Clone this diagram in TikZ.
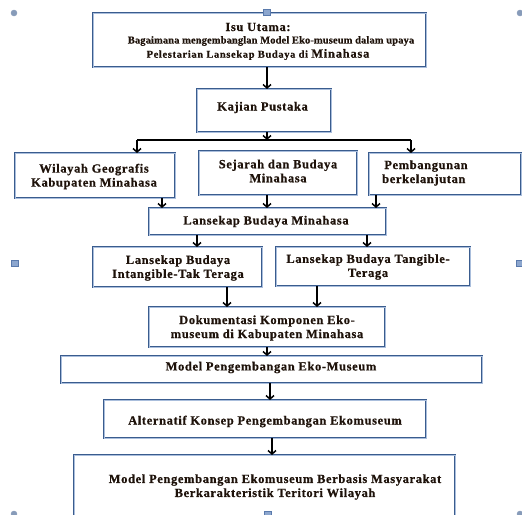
\documentclass[tikz,border=0pt]{standalone}
\usepackage{fontspec}
\setmainfont{Liberation Serif}
\newfontfamily\spA{Liberation Serif Bold}[LetterSpace=5,FakeBold=0.6]
\newfontfamily\spB{Liberation Serif Bold}[LetterSpace=1,FakeBold=0.6]
\newfontfamily\spC{Liberation Serif Bold}[LetterSpace=6,FakeBold=0.6]
\usetikzlibrary{arrows.meta}
\definecolor{boxblue}{RGB}{58,92,142}
\definecolor{boxlight}{RGB}{170,190,220}
\definecolor{txtc}{RGB}{30,18,10}
\definecolor{hfill}{RGB}{140,166,206}
\definecolor{hdraw}{RGB}{90,122,172}
\definecolor{cfill}{RGB}{135,155,185}
\tikzset{
  box/.style={draw=boxblue, line width=2.6pt, fill=white, inner sep=0pt, outer sep=0pt,
    postaction={draw=boxlight, line width=0.6pt}},
  txt/.style={font=\spA\fontsize{12.5}{14}\selectfont, text=txtc, align=center, inner sep=0pt},
  arr/.style={draw=black, line width=1.5pt, -{Straight Barb[length=3.5pt,width=8pt,line width=1.5pt]}},
  ln/.style={draw=black, line width=1.1pt},
  hsq/.style={draw=hdraw, fill=hfill, line width=0.5pt, minimum width=7pt, minimum height=6pt, inner sep=0pt},
  hci/.style={circle, draw=cfill, fill=cfill, minimum size=6pt, inner sep=0pt}
}
\begin{document}
\begin{tikzpicture}[x=1pt,y=-1pt]
\clip (0,0) rectangle (522,514);
\fill[white] (0,0) rectangle (522,514);
% boxes
\node[box, minimum width=333pt, minimum height=54pt] (isu) at (259.5,40) {};
\node[box, minimum width=134pt, minimum height=43pt] (kaj) at (264,110.5) {};
\node[box, minimum width=160pt, minimum height=45pt] (wil) at (95,175.5) {};
\node[box, minimum width=158pt, minimum height=44pt] (sej) at (278,173) {};
\node[box, minimum width=152pt, minimum height=42pt] (pem) at (445,174) {};
\node[box, minimum width=237pt, minimum height=27pt] (lbm) at (267.5,221.5) {};
\node[box, minimum width=169pt, minimum height=40pt] (int) at (177.5,267) {};
\node[box, minimum width=194pt, minimum height=39pt] (tan) at (373,266.5) {};
\node[box, minimum width=236pt, minimum height=40pt] (dok) at (267,327) {};
\node[box, minimum width=421pt, minimum height=27pt] (mod) at (271.5,369.5) {};
\node[box, minimum width=322pt, minimum height=38pt] (alt) at (265,419) {};
\node[box, minimum width=381pt, minimum height=65pt] (fin) at (264.5,487.5) {};
% texts
\node[txt] (t-isu1) at (258,27) {Isu Utama:};
\node[txt, font=\spB\fontsize{10.5}{12}\selectfont] (t-isu2) at (271,41) {Bagaimana mengembanglan Model Eko-museum dalam upaya};
\node[txt, font=\spC\fontsize{10.5}{12}\selectfont] (t-isu3) at (258,54.5) {Pelestarian Lansekap Budaya di {\fontsize{12.5}{12}\selectfont Minahasa}};
\node[txt] (t-kaj) at (262.5,107.5) {Kajian Pustaka};
\node[txt] (t-wil) at (94,176.5) {Wilayah Geografis\\Kabupaten Minahasa};
\node[txt] (t-sej) at (278,171) {Sejarah dan Budaya\\Minahasa};
\node[txt, align=left, anchor=west] (t-pem) at (382,173) {\,Pembangunan\\berkelanjutan};
\node[txt] (t-lbm) at (266,221.5) {Lansekap Budaya Minahasa};
\node[txt] (t-int) at (178,268) {Lansekap Budaya\\Intangible-Tak Teraga};
\node[txt] (t-tan) at (368,267) {Lansekap Budaya Tangible-\\Teraga};
\node[txt] (t-dok) at (267,328) {Dokumentasi Komponen Eko-\\museum di Kabupaten Minahasa};
\node[txt] (t-mod) at (271,367.5) {Model Pengembangan Eko-Museum};
\node[txt] (t-alt) at (265,421.5) {Alternatif Konsep Pengembangan Ekomuseum};
\node[txt] (t-fin) at (275,487) {Model Pengembangan Ekomuseum Berbasis Masyarakat\\Berkarakteristik Teritori Wilayah};
% x positions of connectors
\coordinate (xa) at (267,0);
\coordinate (bl) at (137,140);
\coordinate (bj) at (267,140);
\coordinate (br) at (411,140);
\coordinate (x162) at (162,0);
\coordinate (x376) at (376,0);
\coordinate (x197) at (197,0);
\coordinate (x367) at (367,0);
\coordinate (x227) at (227,0);
\coordinate (x317) at (317,0);
\coordinate (x270) at (270,0);
\coordinate (x272) at (272,0);
% connectors
\draw[arr] (isu.south -| xa) -- (kaj.north -| xa);
\draw[arr] (kaj.south -| bj) -- (bj);
\draw[ln] (bl) -- (br);
\draw[arr] (bl) -- (wil.north -| bl);
\draw[arr] (br) -- (pem.north -| br);
\draw[arr] (wil.south -| x162) -- (lbm.north -| x162);
\draw[arr] (sej.south -| xa) -- (lbm.north -| xa);
\draw[arr] (pem.south -| x376) -- (lbm.north -| x376);
\draw[arr] (lbm.south -| x197) -- (int.north -| x197);
\draw[arr] (lbm.south -| x367) -- (tan.north -| x367);
\draw[arr] (int.south -| x227) -- (dok.north -| x227);
\draw[arr] (tan.south -| x317) -- (dok.north -| x317);
\draw[arr] (dok.south -| xa) -- (mod.north -| xa);
\draw[arr] (mod.south -| x270) -- (alt.north -| x270);
\draw[arr] (alt.south -| x272) -- (fin.north -| x272);
% selection handles
\node[hci] (h1) at (14,13) {};
\node[hci] (h2) at (520,13) {};
\node[hsq] (h3) at (267,12) {};
\node[hsq] (h4) at (15,263) {};
\node[hsq] (h5) at (520,263) {};
\node[hci] (h6) at (14,514) {};
\node[hsq] (h7) at (268,514) {};
\node[hci] (h8) at (520,514) {};
\end{tikzpicture}
\end{document}
